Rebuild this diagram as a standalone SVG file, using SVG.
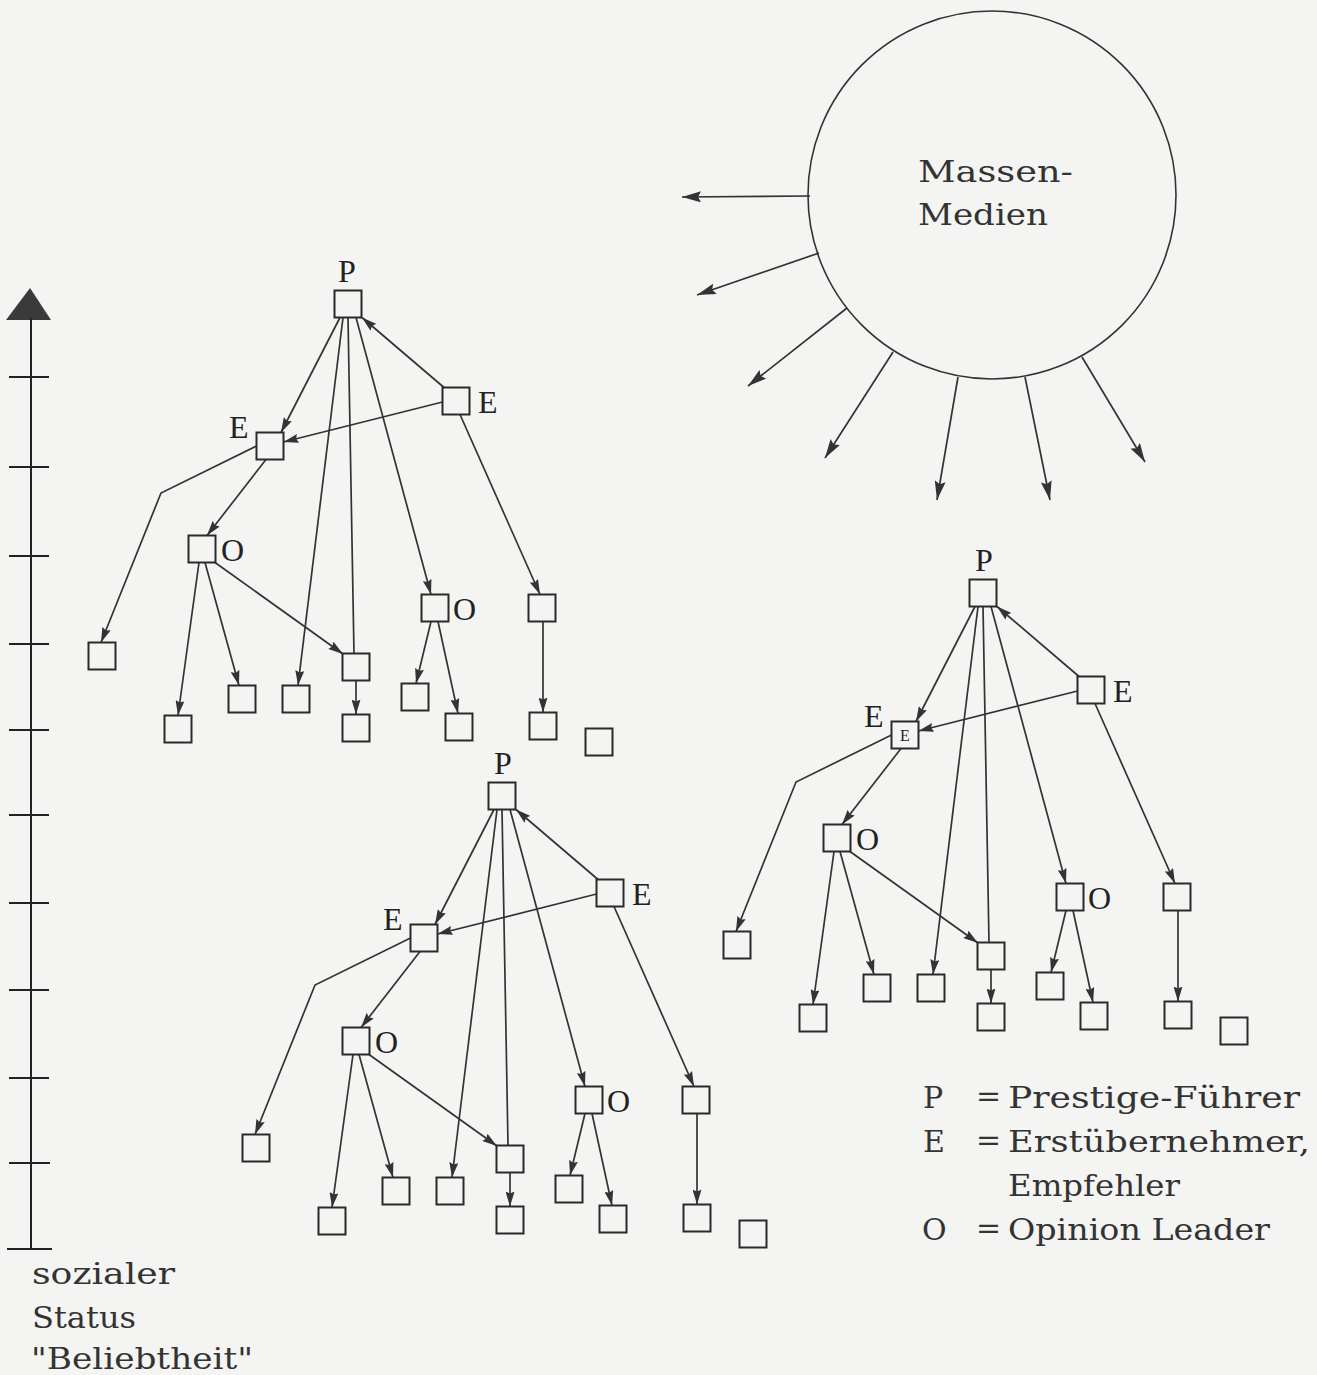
<svg xmlns="http://www.w3.org/2000/svg" width="1317" height="1375" viewBox="0 0 1317 1375">
<defs>
<style>
.box{fill:none;stroke:#2a2a2a;stroke-width:2}
.edge{fill:none;stroke:#333;stroke-width:1.7}
.arr{marker-end:url(#ah)}
.lbl{font-family:"Liberation Serif",serif;font-size:32px;fill:#222}
.small{font-family:"Liberation Serif",serif;font-size:16px;fill:#222}
.txt{font-family:"DejaVu Serif",serif;font-size:30px;fill:#333}
.ray{fill:none;stroke:#333;stroke-width:1.7;marker-end:url(#bh)}
.tick{stroke:#222;stroke-width:2}
</style>
<marker id="ah" markerUnits="userSpaceOnUse" markerWidth="15" markerHeight="9" viewBox="0 0 15 9" refX="15" refY="4.5" orient="auto">
<path d="M0,0 L15,4.5 L0,9 L2,4.5 z" fill="#333"/>
</marker>
<marker id="bh" markerUnits="userSpaceOnUse" markerWidth="19" markerHeight="11" viewBox="0 0 19 11" refX="19" refY="5.5" orient="auto">
<path d="M0,0 L19,5.5 L0,11 L3,5.5 z" fill="#333"/>
</marker>
</defs>
<rect width="1317" height="1375" fill="#f4f4f2"/>

<!-- Axis -->
<g id="axis">
<polygon points="30,288 6,320 51,320" fill="#3a3a3a"/>
<line x1="31" y1="318" x2="31" y2="1249" stroke="#222" stroke-width="2"/>
<line class="tick" x1="9" y1="377" x2="49" y2="377"/>
<line class="tick" x1="9" y1="467" x2="49" y2="467"/>
<line class="tick" x1="9" y1="556" x2="49" y2="556"/>
<line class="tick" x1="9" y1="644" x2="49" y2="644"/>
<line class="tick" x1="9" y1="730" x2="49" y2="730"/>
<line class="tick" x1="9" y1="815" x2="49" y2="815"/>
<line class="tick" x1="9" y1="903" x2="49" y2="903"/>
<line class="tick" x1="9" y1="990" x2="49" y2="990"/>
<line class="tick" x1="9" y1="1078" x2="49" y2="1078"/>
<line class="tick" x1="9" y1="1163" x2="50" y2="1163"/>
<line class="tick" x1="7" y1="1249" x2="52" y2="1249"/>
<text class="txt" x="32" y="1284" font-size="32" textLength="143" lengthAdjust="spacingAndGlyphs">sozialer</text>
<text class="txt" x="32" y="1328" font-size="32" textLength="104" lengthAdjust="spacingAndGlyphs">Status</text>
<text class="txt" x="31" y="1369" font-size="32" textLength="222" lengthAdjust="spacingAndGlyphs">"Beliebtheit"</text>
</g>

<!-- Mass media -->
<g id="massmedia">
<circle cx="992" cy="195" r="184" fill="none" stroke="#333" stroke-width="1.6"/>
<text class="txt" x="918" y="182" font-size="32" textLength="155" lengthAdjust="spacingAndGlyphs">Massen-</text>
<text class="txt" x="918" y="225" font-size="32" textLength="130" lengthAdjust="spacingAndGlyphs">Medien</text>
</g>
<g id="rays">
<path class="ray" d="M810,196 L682,197"/>
<path class="ray" d="M819,253 L697,295"/>
<path class="ray" d="M847,308 L748,386"/>
<path class="ray" d="M893,352 L825,458"/>
<path class="ray" d="M958,377 L937,500"/>
<path class="ray" d="M1025,377 L1050,500"/>
<path class="ray" d="M1082,357 L1145,462"/>
</g>

<!-- Tree 1 -->
<g id="tree1" transform="translate(348,304)">
<g id="connectors1">
<path class="edge arr" d="M-8,13.5 L-67,128.5"/>
<path class="edge arr" d="M-5,13.5 L-50,381.5"/>
<path class="edge" d="M0,13.5 L6,349.5"/>
<path class="edge arr" d="M8,13.5 L83,290.5"/>
<path class="edge arr" d="M96,83.5 L14,13.5"/>
<path class="edge arr" d="M94.5,98 L-64.5,138"/>
<path class="edge arr" d="M112,110.5 L192,290.5"/>
<path class="edge arr" d="M-91.5,142 L-187,189 L-247,338.5"/>
<path class="edge arr" d="M-82,155.5 L-141,231.5"/>
<path class="edge arr" d="M-149,258.5 L-170,411.5"/>
<path class="edge arr" d="M-143,258.5 L-109,381.5"/>
<path class="edge arr" d="M-133,258.5 L-5,350"/>
<path class="edge arr" d="M8,376.5 L8,410.5"/>
<path class="edge arr" d="M83,317.5 L68,379.5"/>
<path class="edge arr" d="M90,317.5 L110,409.5"/>
<path class="edge arr" d="M195,317.5 L195,408.5"/>
</g>
<g id="t1-P"><rect class="box" x="-13.5" y="-13.5" width="27" height="27"/><text class="lbl" x="-1" y="-22" text-anchor="middle">P</text></g>
<g id="t1-ER"><rect class="box" x="94.5" y="83.5" width="27" height="27"/><text class="lbl" x="130" y="109">E</text></g>
<g id="t1-EL"><rect class="box" x="-91.5" y="128.5" width="27" height="27"/><text class="lbl" x="-119" y="134">E</text></g>
<g id="t1-O"><rect class="box" x="-159.5" y="231.5" width="27" height="27"/><text class="lbl" x="-127" y="257">O</text></g>
<g id="t1-O2"><rect class="box" x="73.5" y="290.5" width="27" height="27"/><text class="lbl" x="105" y="316">O</text></g>
<g id="t1-R"><rect class="box" x="180.5" y="290.5" width="27" height="27"/></g>
<g id="t1-FL"><rect class="box" x="-259.5" y="338.5" width="27" height="27"/></g>
<g id="t1-M"><rect class="box" x="-5.5" y="349.5" width="27" height="27"/></g>
<g id="t1-B1"><rect class="box" x="-183.5" y="411.5" width="27" height="27"/></g>
<g id="t1-B2"><rect class="box" x="-119.5" y="381.5" width="27" height="27"/></g>
<g id="t1-B3"><rect class="box" x="-65.5" y="381.5" width="27" height="27"/></g>
<g id="t1-B4"><rect class="box" x="-5.5" y="410.5" width="27" height="27"/></g>
<g id="t1-B5"><rect class="box" x="53.5" y="379.5" width="27" height="27"/></g>
<g id="t1-B6"><rect class="box" x="97.5" y="409.5" width="27" height="27"/></g>
<g id="t1-B7"><rect class="box" x="181.5" y="408.5" width="27" height="27"/></g>
<g id="t1-ISO"><rect class="box" x="237.5" y="424.5" width="27" height="27"/></g>
</g>

<!-- Tree 2 -->
<g id="tree2" transform="translate(983,593)">
<g id="connectors2">
<path class="edge arr" d="M-8,13.5 L-67,128.5"/>
<path class="edge arr" d="M-5,13.5 L-50,381.5"/>
<path class="edge" d="M0,13.5 L6,349.5"/>
<path class="edge arr" d="M8,13.5 L83,290.5"/>
<path class="edge arr" d="M96,83.5 L14,13.5"/>
<path class="edge arr" d="M94.5,98 L-64.5,138"/>
<path class="edge arr" d="M112,110.5 L192,290.5"/>
<path class="edge arr" d="M-91.5,142 L-187,189 L-247,338.5"/>
<path class="edge arr" d="M-82,155.5 L-141,231.5"/>
<path class="edge arr" d="M-149,258.5 L-170,411.5"/>
<path class="edge arr" d="M-143,258.5 L-109,381.5"/>
<path class="edge arr" d="M-133,258.5 L-5,350"/>
<path class="edge arr" d="M8,376.5 L8,410.5"/>
<path class="edge arr" d="M83,317.5 L68,379.5"/>
<path class="edge arr" d="M90,317.5 L110,409.5"/>
<path class="edge arr" d="M195,317.5 L195,408.5"/>
</g>
<g id="t2-P"><rect class="box" x="-13.5" y="-13.5" width="27" height="27"/><text class="lbl" x="1" y="-22" text-anchor="middle">P</text></g>
<g id="t2-ER"><rect class="box" x="94.5" y="83.5" width="27" height="27"/><text class="lbl" x="130" y="109">E</text></g>
<g id="t2-EL"><rect class="box" x="-91.5" y="128.5" width="27" height="27"/><text class="lbl" x="-119" y="134">E</text><text class="small" x="-78" y="148" text-anchor="middle">E</text></g>
<g id="t2-O"><rect class="box" x="-159.5" y="231.5" width="27" height="27"/><text class="lbl" x="-127" y="257">O</text></g>
<g id="t2-O2"><rect class="box" x="73.5" y="290.5" width="27" height="27"/><text class="lbl" x="105" y="316">O</text></g>
<g id="t2-R"><rect class="box" x="180.5" y="290.5" width="27" height="27"/></g>
<g id="t2-FL"><rect class="box" x="-259.5" y="338.5" width="27" height="27"/></g>
<g id="t2-M"><rect class="box" x="-5.5" y="349.5" width="27" height="27"/></g>
<g id="t2-B1"><rect class="box" x="-183.5" y="411.5" width="27" height="27"/></g>
<g id="t2-B2"><rect class="box" x="-119.5" y="381.5" width="27" height="27"/></g>
<g id="t2-B3"><rect class="box" x="-65.5" y="381.5" width="27" height="27"/></g>
<g id="t2-B4"><rect class="box" x="-5.5" y="410.5" width="27" height="27"/></g>
<g id="t2-B5"><rect class="box" x="53.5" y="379.5" width="27" height="27"/></g>
<g id="t2-B6"><rect class="box" x="97.5" y="409.5" width="27" height="27"/></g>
<g id="t2-B7"><rect class="box" x="181.5" y="408.5" width="27" height="27"/></g>
<g id="t2-ISO"><rect class="box" x="237.5" y="424.5" width="27" height="27"/></g>
</g>

<!-- Tree 3 -->
<g id="tree3" transform="translate(502,796)">
<g id="connectors3">
<path class="edge arr" d="M-8,13.5 L-67,128.5"/>
<path class="edge arr" d="M-5,13.5 L-50,381.5"/>
<path class="edge" d="M0,13.5 L6,349.5"/>
<path class="edge arr" d="M8,13.5 L83,290.5"/>
<path class="edge arr" d="M96,83.5 L14,13.5"/>
<path class="edge arr" d="M94.5,98 L-64.5,138"/>
<path class="edge arr" d="M112,110.5 L192,290.5"/>
<path class="edge arr" d="M-91.5,142 L-187,189 L-247,338.5"/>
<path class="edge arr" d="M-82,155.5 L-141,231.5"/>
<path class="edge arr" d="M-149,258.5 L-170,411.5"/>
<path class="edge arr" d="M-143,258.5 L-109,381.5"/>
<path class="edge arr" d="M-133,258.5 L-5,350"/>
<path class="edge arr" d="M8,376.5 L8,410.5"/>
<path class="edge arr" d="M83,317.5 L68,379.5"/>
<path class="edge arr" d="M90,317.5 L110,409.5"/>
<path class="edge arr" d="M195,317.5 L195,408.5"/>
</g>
<g id="t3-P"><rect class="box" x="-13.5" y="-13.5" width="27" height="27"/><text class="lbl" x="1" y="-22" text-anchor="middle">P</text></g>
<g id="t3-ER"><rect class="box" x="94.5" y="83.5" width="27" height="27"/><text class="lbl" x="130" y="109">E</text></g>
<g id="t3-EL"><rect class="box" x="-91.5" y="128.5" width="27" height="27"/><text class="lbl" x="-119" y="134">E</text></g>
<g id="t3-O"><rect class="box" x="-159.5" y="231.5" width="27" height="27"/><text class="lbl" x="-127" y="257">O</text></g>
<g id="t3-O2"><rect class="box" x="73.5" y="290.5" width="27" height="27"/><text class="lbl" x="105" y="316">O</text></g>
<g id="t3-R"><rect class="box" x="180.5" y="290.5" width="27" height="27"/></g>
<g id="t3-FL"><rect class="box" x="-259.5" y="338.5" width="27" height="27"/></g>
<g id="t3-M"><rect class="box" x="-5.5" y="349.5" width="27" height="27"/></g>
<g id="t3-B1"><rect class="box" x="-183.5" y="411.5" width="27" height="27"/></g>
<g id="t3-B2"><rect class="box" x="-119.5" y="381.5" width="27" height="27"/></g>
<g id="t3-B3"><rect class="box" x="-65.5" y="381.5" width="27" height="27"/></g>
<g id="t3-B4"><rect class="box" x="-5.5" y="410.5" width="27" height="27"/></g>
<g id="t3-B5"><rect class="box" x="53.5" y="379.5" width="27" height="27"/></g>
<g id="t3-B6"><rect class="box" x="97.5" y="409.5" width="27" height="27"/></g>
<g id="t3-B7"><rect class="box" x="181.5" y="408.5" width="27" height="27"/></g>
<g id="t3-ISO"><rect class="box" x="237.5" y="424.5" width="27" height="27"/></g>
</g>

<!-- Legend -->
<g id="legend">
<text class="txt" x="923" y="1108">P</text>
<text class="txt" x="976" y="1106" font-size="22">=</text>
<text class="txt" x="1008" y="1108" textLength="292" lengthAdjust="spacingAndGlyphs">Prestige-Führer</text>
<text class="txt" x="923" y="1152">E</text>
<text class="txt" x="976" y="1150" font-size="22">=</text>
<text class="txt" x="1008" y="1152" textLength="302" lengthAdjust="spacingAndGlyphs">Erstübernehmer,</text>
<text class="txt" x="1008" y="1196" textLength="172" lengthAdjust="spacingAndGlyphs">Empfehler</text>
<text class="txt" x="922" y="1240">O</text>
<text class="txt" x="976" y="1238" font-size="22">=</text>
<text class="txt" x="1008" y="1240" textLength="262" lengthAdjust="spacingAndGlyphs">Opinion Leader</text>
</g>
</svg>
